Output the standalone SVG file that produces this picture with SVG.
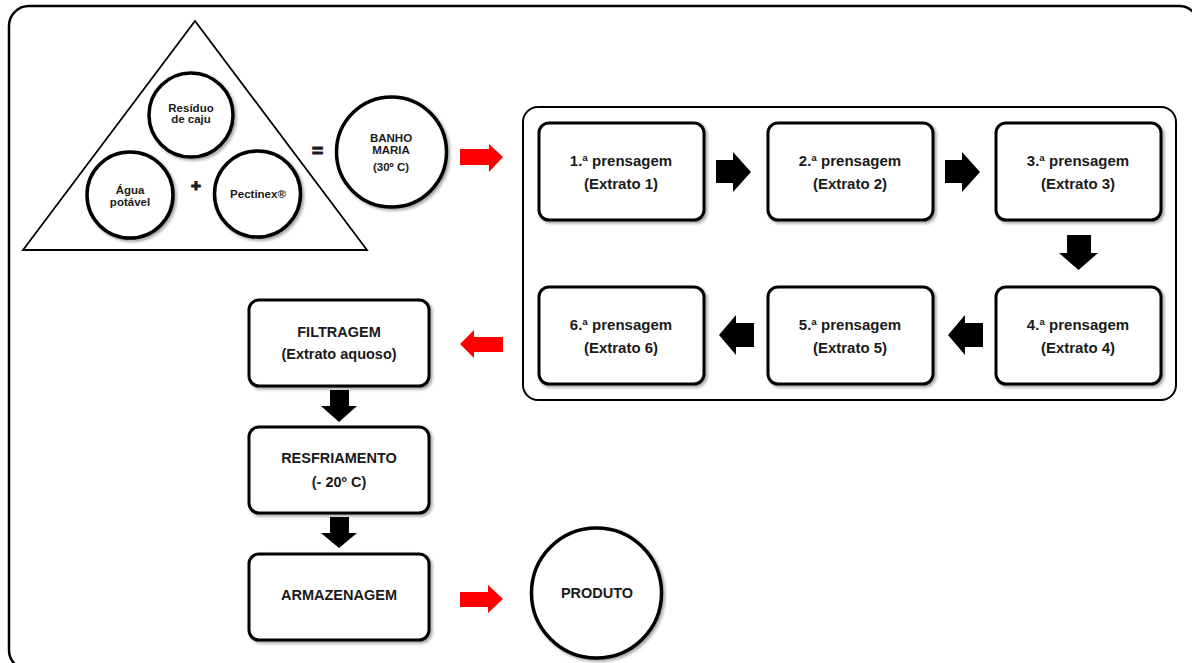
<svg xmlns="http://www.w3.org/2000/svg" width="1192" height="663" viewBox="0 0 1192 663">
<defs>
<filter id="sh" x="-10%" y="-10%" width="130%" height="130%">
<feDropShadow dx="2" dy="2" stdDeviation="1.5" flood-color="#000" flood-opacity="0.35"/>
</filter>
</defs>
<style>
text{font-family:"Liberation Sans",Arial,sans-serif;font-weight:bold;fill:#1a1a1a;text-anchor:middle}
.box{fill:#fff;stroke:#000;stroke-width:3;filter:url(#sh)}
.circ{fill:#fff;stroke:#000;stroke-width:3.5;filter:url(#sh)}
.t15{font-size:15px}
.t14{font-size:14.5px}
.t11{font-size:11.5px}
.sym{stroke:#1a1a1a;stroke-width:1.2}
.blk{fill:#000}
.red{fill:#ff0000}
</style>
<rect x="9" y="6" width="1190" height="664" rx="20" fill="#fff" stroke="#000" stroke-width="2.5"/>

<g id="mixture">
<polygon points="195,21 23,250 367,250" fill="#fff" stroke="#000" stroke-width="1.8"/>
</g>
<g id="residuo">
<circle class="circ" cx="191" cy="115" r="42"/>
<text class="t11" x="191" y="111.5">Resíduo</text>
<text class="t11" x="191" y="123">de caju</text>
</g>
<g id="agua">
<circle class="circ" cx="130" cy="195" r="43"/>
<text class="t11" x="130" y="194">Água</text>
<text class="t11" x="130" y="205.5">potável</text>
</g>
<g id="pectinex">
<circle class="circ" cx="257.5" cy="194" r="43"/>
<text class="t11" x="258" y="198">Pectinex®</text>
</g>
<text class="sym" x="196" y="191" style="font-size:17px">+</text>
<text class="sym" x="317.5" y="157" style="font-size:19px">=</text>
<g id="banho">
<circle class="circ" cx="391.5" cy="152" r="55"/>
<text class="t11" x="391" y="142">BANHO</text>
<text class="t11" x="391" y="154">MARIA</text>
<text class="t11" x="391" y="171">(30º C)</text>
</g>

<g id="prensagens">
<rect x="523" y="107" width="653" height="293" rx="15" fill="#fff" stroke="#000" stroke-width="2"/>
</g>
<g id="p1">
<rect class="box" x="539" y="123" width="165" height="97" rx="10"/>
<text class="t15" x="621" y="166">1.ª prensagem</text>
<text class="t15" x="621" y="189">(Extrato 1)</text>
</g>
<g id="p2">
<rect class="box" x="768" y="123" width="165" height="97" rx="10"/>
<text class="t15" x="850" y="166">2.ª prensagem</text>
<text class="t15" x="850" y="189">(Extrato 2)</text>
</g>
<g id="p3">
<rect class="box" x="996" y="123" width="165" height="97" rx="10"/>
<text class="t15" x="1078" y="166">3.ª prensagem</text>
<text class="t15" x="1078" y="189">(Extrato 3)</text>
</g>
<g id="p4">
<rect class="box" x="996" y="287" width="165" height="97" rx="10"/>
<text class="t15" x="1078" y="330">4.ª prensagem</text>
<text class="t15" x="1078" y="353">(Extrato 4)</text>
</g>
<g id="p5">
<rect class="box" x="768" y="287" width="165" height="97" rx="10"/>
<text class="t15" x="850" y="330">5.ª prensagem</text>
<text class="t15" x="850" y="353">(Extrato 5)</text>
</g>
<g id="p6">
<rect class="box" x="539" y="287" width="165" height="97" rx="10"/>
<text class="t15" x="621" y="330">6.ª prensagem</text>
<text class="t15" x="621" y="353">(Extrato 6)</text>
</g>

<g id="filtragem">
<rect class="box" x="249" y="300" width="180" height="86" rx="10"/>
<text class="t14" x="339" y="337">FILTRAGEM</text>
<text class="t14" x="339" y="359">(Extrato aquoso)</text>
</g>
<g id="resfriamento">
<rect class="box" x="249" y="427" width="180" height="86" rx="10"/>
<text class="t14" x="339" y="463">RESFRIAMENTO</text>
<text class="t14" x="339" y="487">(- 20º C)</text>
</g>
<g id="armazenagem">
<rect class="box" x="249" y="554" width="180" height="86" rx="10"/>
<text class="t14" x="339" y="600">ARMAZENAGEM</text>
</g>
<g id="produto">
<circle class="circ" cx="596.5" cy="593" r="65"/>
<text class="t14" x="597" y="598">PRODUTO</text>
</g>

<g id="connectors">
<polygon class="red" points="460,149 489,149 489,144 503,157 489,172 489,165 460,165"/>
<polygon class="blk" points="716,160 733,160 733,152 751,172 733,192 733,183 716,183"/>
<polygon class="blk" points="945,160 962,160 962,152 980,172 962,192 962,183 945,183"/>
<polygon class="blk" points="1067,235 1091,235 1091,253 1098,253 1078.5,270 1059,253 1067,253"/>
<polygon class="blk" points="983,323 965,323 965,315 948,335 965,355 965,347 983,347"/>
<polygon class="blk" points="754,323 736,323 736,315 719,335 736,355 736,347 754,347"/>
<polygon class="red" points="503,337 474,337 474,330 460,344 474,358 474,352 503,352"/>
<polygon class="blk" points="330,390 349,390 349,406 357,406 339,422 321,406 330,406"/>
<polygon class="blk" points="330,517 349,517 349,533 357,533 339,548 321,533 330,533"/>
<polygon class="red" points="460,592 488,592 488,585 503,599 488,613 488,607 460,607"/>
</g>
</svg>
